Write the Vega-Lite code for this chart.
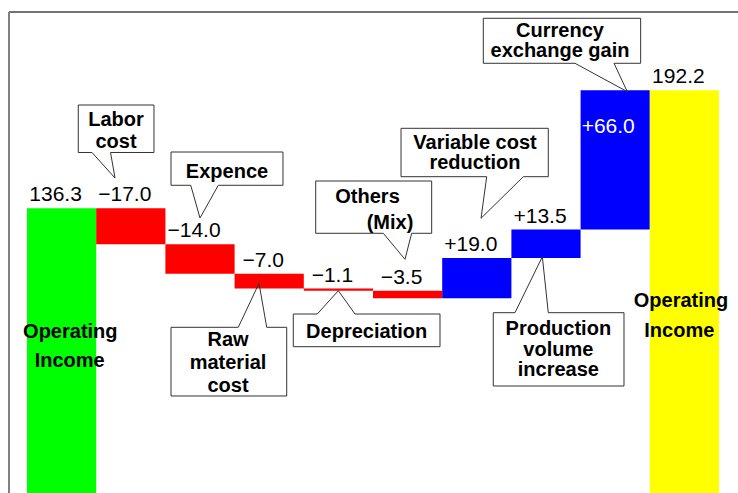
{
  "$schema": "https://vega.github.io/schema/vega-lite/v6.json",
  "width": 729,
  "height": 481,
  "autosize": {"type": "none"},
  "padding": {"left": 9, "top": 12, "right": 0, "bottom": 0},
  "background": "white",
  "config": {"view": {"stroke": null}, "font": "Liberation Sans"},
  "datasets": {
    "bars": [
      {"category": "Operating Income (before)", "start": 0, "end": 136.3, "kind": "total", "label": "136.3"},
      {"category": "Labor cost", "start": 136.3, "end": 119.3, "kind": "decrease", "label": "−17.0"},
      {"category": "Expence", "start": 119.3, "end": 105.3, "kind": "decrease", "label": "−14.0"},
      {"category": "Raw material cost", "start": 105.3, "end": 98.3, "kind": "decrease", "label": "−7.0"},
      {"category": "Depreciation", "start": 98.3, "end": 97.2, "kind": "decrease", "label": "−1.1"},
      {"category": "Others (Mix)", "start": 97.2, "end": 93.7, "kind": "decrease", "label": "−3.5"},
      {"category": "Variable cost reduction", "start": 93.7, "end": 112.7, "kind": "increase", "label": "+19.0"},
      {"category": "Production volume increase", "start": 112.7, "end": 126.2, "kind": "increase", "label": "+13.5"},
      {"category": "Currency exchange gain", "start": 126.2, "end": 192.2, "kind": "increase", "label": "+66.0"},
      {"category": "Operating Income (after)", "start": 0, "end": 192.2, "kind": "final", "label": "192.2"}
    ],
    "callouts": [
      {"id": "labor", "o": 0, "s": 0.741, "v": 185.24},
      {"id": "labor", "o": 1, "s": 1.835, "v": 185.24},
      {"id": "labor", "o": 2, "s": 1.835, "v": 162.74},
      {"id": "labor", "o": 3, "s": 1.207, "v": 162.74},
      {"id": "labor", "o": 4, "s": 1.272, "v": 150.66},
      {"id": "labor", "o": 5, "s": 0.939, "v": 162.74},
      {"id": "labor", "o": 6, "s": 0.741, "v": 162.74},
      {"id": "labor", "o": 7, "s": 0.741, "v": 185.24},

      {"id": "expence", "o": 0, "s": 2.081, "v": 162.97},
      {"id": "expence", "o": 1, "s": 3.699, "v": 162.97},
      {"id": "expence", "o": 2, "s": 3.699, "v": 147.2},
      {"id": "expence", "o": 3, "s": 2.764, "v": 147.2},
      {"id": "expence", "o": 4, "s": 2.5, "v": 131.7},
      {"id": "expence", "o": 5, "s": 2.366, "v": 147.2},
      {"id": "expence", "o": 6, "s": 2.081, "v": 147.2},
      {"id": "expence", "o": 7, "s": 2.081, "v": 162.97},

      {"id": "raw", "o": 0, "s": 2.081, "v": 79.92},
      {"id": "raw", "o": 1, "s": 3.053, "v": 79.92},
      {"id": "raw", "o": 2, "s": 3.353, "v": 100.77},
      {"id": "raw", "o": 3, "s": 3.464, "v": 79.92},
      {"id": "raw", "o": 4, "s": 3.753, "v": 79.92},
      {"id": "raw", "o": 5, "s": 3.753, "v": 47.38},
      {"id": "raw", "o": 6, "s": 2.081, "v": 47.38},
      {"id": "raw", "o": 7, "s": 2.081, "v": 79.92},

      {"id": "dep", "o": 0, "s": 3.848, "v": 86.22},
      {"id": "dep", "o": 1, "s": 4.195, "v": 86.22},
      {"id": "dep", "o": 2, "s": 4.499, "v": 97.26},
      {"id": "dep", "o": 3, "s": 4.74, "v": 86.22},
      {"id": "dep", "o": 4, "s": 5.968, "v": 86.22},
      {"id": "dep", "o": 5, "s": 5.968, "v": 70.73},
      {"id": "dep", "o": 6, "s": 3.848, "v": 70.73},
      {"id": "dep", "o": 7, "s": 3.848, "v": 86.22},

      {"id": "others", "o": 0, "s": 4.172, "v": 149.23},
      {"id": "others", "o": 1, "s": 5.848, "v": 149.23},
      {"id": "others", "o": 2, "s": 5.848, "v": 124.46},
      {"id": "others", "o": 3, "s": 5.559, "v": 124.46},
      {"id": "others", "o": 4, "s": 5.462, "v": 112.14},
      {"id": "others", "o": 5, "s": 5.149, "v": 124.46},
      {"id": "others", "o": 6, "s": 4.172, "v": 124.46},
      {"id": "others", "o": 7, "s": 4.172, "v": 149.23},

      {"id": "variable", "o": 0, "s": 5.405, "v": 174.2},
      {"id": "variable", "o": 1, "s": 7.533, "v": 174.2},
      {"id": "variable", "o": 2, "s": 7.533, "v": 151.27},
      {"id": "variable", "o": 3, "s": 7.172, "v": 151.27},
      {"id": "variable", "o": 4, "s": 6.561, "v": 131.56},
      {"id": "variable", "o": 5, "s": 6.643, "v": 151.27},
      {"id": "variable", "o": 6, "s": 5.405, "v": 151.27},
      {"id": "variable", "o": 7, "s": 5.405, "v": 174.2},

      {"id": "currency", "o": 0, "s": 6.594, "v": 226.32},
      {"id": "currency", "o": 1, "s": 8.868, "v": 226.32},
      {"id": "currency", "o": 2, "s": 8.868, "v": 205.0},
      {"id": "currency", "o": 3, "s": 8.483, "v": 205.0},
      {"id": "currency", "o": 4, "s": 8.675, "v": 191.54},
      {"id": "currency", "o": 5, "s": 7.919, "v": 205.0},
      {"id": "currency", "o": 6, "s": 6.594, "v": 205.0},
      {"id": "currency", "o": 7, "s": 6.594, "v": 226.32},

      {"id": "production", "o": 0, "s": 6.738, "v": 86.84},
      {"id": "production", "o": 1, "s": 7.052, "v": 86.84},
      {"id": "production", "o": 2, "s": 7.447, "v": 113.37},
      {"id": "production", "o": 3, "s": 7.533, "v": 86.84},
      {"id": "production", "o": 4, "s": 8.627, "v": 86.84},
      {"id": "production", "o": 5, "s": 8.627, "v": 52.11},
      {"id": "production", "o": 6, "s": 6.738, "v": 52.11},
      {"id": "production", "o": 7, "s": 6.738, "v": 86.84}
    ],
    "notes": [
      {"t": "Labor", "s": 1.286, "v": 175.29},
      {"t": "cost", "s": 1.286, "v": 164.87},
      {"t": "Expence", "s": 2.89, "v": 150.89},
      {"t": "Raw", "s": 2.905, "v": 71.06},
      {"t": "material", "s": 2.905, "v": 60.02},
      {"t": "cost", "s": 2.905, "v": 49.41},
      {"t": "Depreciation", "s": 4.909, "v": 74.71},
      {"t": "Others", "s": 4.921, "v": 138.67},
      {"t": "(Mix)", "s": 5.246, "v": 126.35},
      {"t": "Variable cost", "s": 6.474, "v": 164.25},
      {"t": "reduction", "s": 6.474, "v": 154.78},
      {"t": "Currency", "s": 7.702, "v": 217.6},
      {"t": "exchange gain", "s": 7.702, "v": 208.12},
      {"t": "Production", "s": 7.678, "v": 76.27},
      {"t": "volume", "s": 7.678, "v": 66.33},
      {"t": "increase", "s": 7.678, "v": 56.85},
      {"t": "Operating", "s": 0.626, "v": 74.71},
      {"t": "Income", "s": 0.617, "v": 61.11},
      {"t": "Operating", "s": 9.451, "v": 89.68},
      {"t": "Income", "s": 9.426, "v": 75.47}
    ]
  },
  "layer": [
    {
      "data": {"name": "bars"},
      "mark": {"type": "bar"},
      "encoding": {
        "x": {"field": "category", "type": "nominal", "sort": null, "axis": null,
          "scale": {"type": "band", "domain": ["Operating Income (before)", "Labor cost", "Expence", "Raw material cost", "Depreciation", "Others (Mix)", "Variable cost reduction", "Production volume increase", "Currency exchange gain", "Operating Income (after)"], "paddingInner": 0, "paddingOuter": 0.26734, "align": 0.4865, "round": false}},
        "y": {"field": "start", "type": "quantitative", "axis": null, "scale": {"domain": [1.42, 229.3], "nice": false, "zero": false}},
        "y2": {"field": "end"},
        "color": {"field": "kind", "type": "nominal", "legend": null,
          "scale": {"domain": ["total", "decrease", "increase", "final"], "range": ["#00FF00", "#FF0000", "#0000FF", "#FFFF00"]}}
      }
    },
    {
      "data": {"name": "bars"},
      "transform": [
        {"filter": "datum.category !== 'Currency exchange gain'"},
        {"calculate": "max(datum.start, datum.end)", "as": "top"}
      ],
      "mark": {"type": "text", "fontSize": 21, "align": "center", "baseline": "alphabetic", "dx": -6, "dy": -7, "color": "black"},
      "encoding": {
        "x": {"field": "category", "type": "nominal", "sort": null, "axis": null,
          "scale": {"type": "band", "domain": ["Operating Income (before)", "Labor cost", "Expence", "Raw material cost", "Depreciation", "Others (Mix)", "Variable cost reduction", "Production volume increase", "Currency exchange gain", "Operating Income (after)"], "paddingInner": 0, "paddingOuter": 0.26734, "align": 0.4865, "round": false}},
        "y": {"field": "top", "type": "quantitative", "axis": null, "scale": {"domain": [1.42, 229.3], "nice": false, "zero": false}},
        "text": {"field": "label"}
      }
    },
    {
      "data": {"name": "bars"},
      "transform": [
        {"filter": "datum.category === 'Currency exchange gain'"},
        {"calculate": "max(datum.start, datum.end)", "as": "top"}
      ],
      "mark": {"type": "text", "fontSize": 21, "align": "center", "baseline": "alphabetic", "dx": -7, "dy": 43, "color": "white"},
      "encoding": {
        "x": {"field": "category", "type": "nominal", "sort": null, "axis": null,
          "scale": {"type": "band", "domain": ["Operating Income (before)", "Labor cost", "Expence", "Raw material cost", "Depreciation", "Others (Mix)", "Variable cost reduction", "Production volume increase", "Currency exchange gain", "Operating Income (after)"], "paddingInner": 0, "paddingOuter": 0.26734, "align": 0.4865, "round": false}},
        "y": {"field": "top", "type": "quantitative", "axis": null, "scale": {"domain": [1.42, 229.3], "nice": false, "zero": false}},
        "text": {"field": "label"}
      }
    },
    {
      "data": {"name": "callouts"},
      "mark": {"type": "line", "color": "#333333", "strokeWidth": 1, "strokeJoin": "miter"},
      "encoding": {
        "x": {"field": "s", "type": "quantitative", "axis": null, "scale": {"domain": [-0.26012, 10.27457], "nice": false, "zero": false}},
        "y": {"field": "v", "type": "quantitative", "axis": null, "scale": {"domain": [1.42, 229.3], "nice": false, "zero": false}},
        "detail": {"field": "id"},
        "order": {"field": "o", "type": "quantitative"}
      }
    },
    {
      "data": {"name": "notes"},
      "mark": {"type": "text", "fontSize": 20, "fontWeight": "bold", "align": "center", "baseline": "alphabetic", "color": "black"},
      "encoding": {
        "x": {"field": "s", "type": "quantitative", "axis": null, "scale": {"domain": [-0.26012, 10.27457], "nice": false, "zero": false}},
        "y": {"field": "v", "type": "quantitative", "axis": null, "scale": {"domain": [1.42, 229.3], "nice": false, "zero": false}},
        "text": {"field": "t"}
      }
    },
    {
      "data": {"values": [{}]},
      "mark": {"type": "rule", "color": "#444444", "strokeWidth": 1.5},
      "encoding": {
        "y": {"datum": 229.3, "type": "quantitative", "axis": null, "scale": {"domain": [1.42, 229.3], "nice": false, "zero": false}}
      }
    },
    {
      "data": {"values": [{}]},
      "mark": {"type": "rule", "color": "#808080", "strokeWidth": 2},
      "encoding": {
        "x": {"datum": -0.26012, "type": "quantitative", "axis": null, "scale": {"domain": [-0.26012, 10.27457], "nice": false, "zero": false}}
      }
    }
  ],
  "resolve": {"scale": {"x": "independent"}}
}
